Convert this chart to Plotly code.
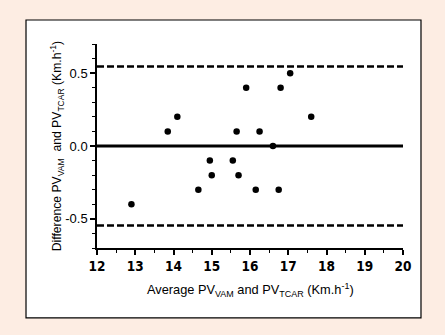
import plotly.graph_objects as go

# Bland-Altman data: mean of the two methods vs. their difference
avg_speed = [12.9, 13.85, 14.1, 14.65, 14.95, 15.0, 15.55, 15.65, 15.7,
             15.9, 16.15, 16.25, 16.6, 16.75, 16.8, 17.05, 17.6]
diff_speed = [-0.4, 0.1, 0.2, -0.3, -0.1, -0.2, -0.1, 0.1, -0.2,
              0.4, -0.3, 0.1, 0.0, -0.3, 0.4, 0.5, 0.2]

bias = 0.0
upper_loa = 0.545
lower_loa = -0.545
x_span = [12, 20]

x_ticks = [12, 13, 14, 15, 16, 17, 18, 19, 20]
y_ticks = [-0.5, 0.0, 0.5]
y_tick_labels = ["-0.5", "0.0", "0.5"]

BG = "#FDEDE3"
FONT = "Liberation Sans, Arial, sans-serif"

fig = go.Figure()

fig.add_trace(go.Scatter(
    x=x_span, y=[bias, bias], mode="lines",
    line=dict(color="black", width=3), hoverinfo="skip"))
for lim in (upper_loa, lower_loa):
    fig.add_trace(go.Scatter(
        x=x_span, y=[lim, lim], mode="lines",
        line=dict(color="black", width=2.5, dash="7px,3px"), hoverinfo="skip"))

fig.add_trace(go.Scatter(
    x=avg_speed, y=diff_speed, mode="markers",
    marker=dict(color="black", size=6.5, line=dict(width=0))))

# white panel framing the chart
fig.add_shape(type="rect", xref="paper", yref="paper",
              x0=-0.232, x1=1.0588, y0=-0.343, y1=1.1176,
              fillcolor="white", line=dict(color="black", width=1.2),
              layer="below")

fig.update_layout(
    width=445, height=335,
    margin=dict(l=97, r=42, t=44, b=87),
    paper_bgcolor=BG, plot_bgcolor="white",
    showlegend=False,
    font=dict(family=FONT, color="black", size=12),
    xaxis=dict(
        range=[12, 20], showgrid=False, zeroline=False,
        showline=True, linecolor="black", linewidth=1.5,
        ticks="outside", ticklen=5, tickwidth=1.5, tickcolor="black",
        tickvals=x_ticks,
        ticktext=["<b>%d</b>" % v for v in x_ticks],
        tickfont=dict(size=13.5, family="DejaVu Sans Condensed, Liberation Sans", weight=900),
        minor=dict(tickvals=[12.5, 13.5, 14.5, 15.5, 16.5, 17.5, 18.5, 19.5],
                   ticks="outside", ticklen=3, tickwidth=1.2, tickcolor="black"),
    ),
    yaxis=dict(
        range=[-0.7, 0.7], showgrid=False, zeroline=False,
        showline=True, linecolor="black", linewidth=1.5,
        ticks="outside", ticklen=5, tickwidth=1.5, tickcolor="black",
        tickvals=y_ticks, ticktext=y_tick_labels,
        tickfont=dict(size=13),
        minor=dict(tickvals=[-0.7, -0.6, -0.4, -0.3, -0.2, -0.1,
                             0.1, 0.2, 0.3, 0.4, 0.6, 0.7],
                   ticks="outside", ticklen=3, tickwidth=1.2, tickcolor="black"),
    ),
    annotations=[
        dict(xref="paper", yref="paper", x=0.5, y=-0.205,
             text="Average PV<sub>VAM</sub> and PV<sub>TCAR</sub> (Km.h<sup>-1</sup>)",
             showarrow=False, font=dict(size=12.8), xanchor="center", yanchor="middle"),
        dict(xref="paper", yref="paper", x=-0.13, y=0.5, textangle=-90,
             text="Difference PV<sub>VAM</sub>  and PV<sub>TCAR</sub> (Km.h<sup>-1</sup>)",
             showarrow=False, font=dict(size=12.2), xanchor="center", yanchor="middle"),
    ],
)

fig.write_html("out.html")
